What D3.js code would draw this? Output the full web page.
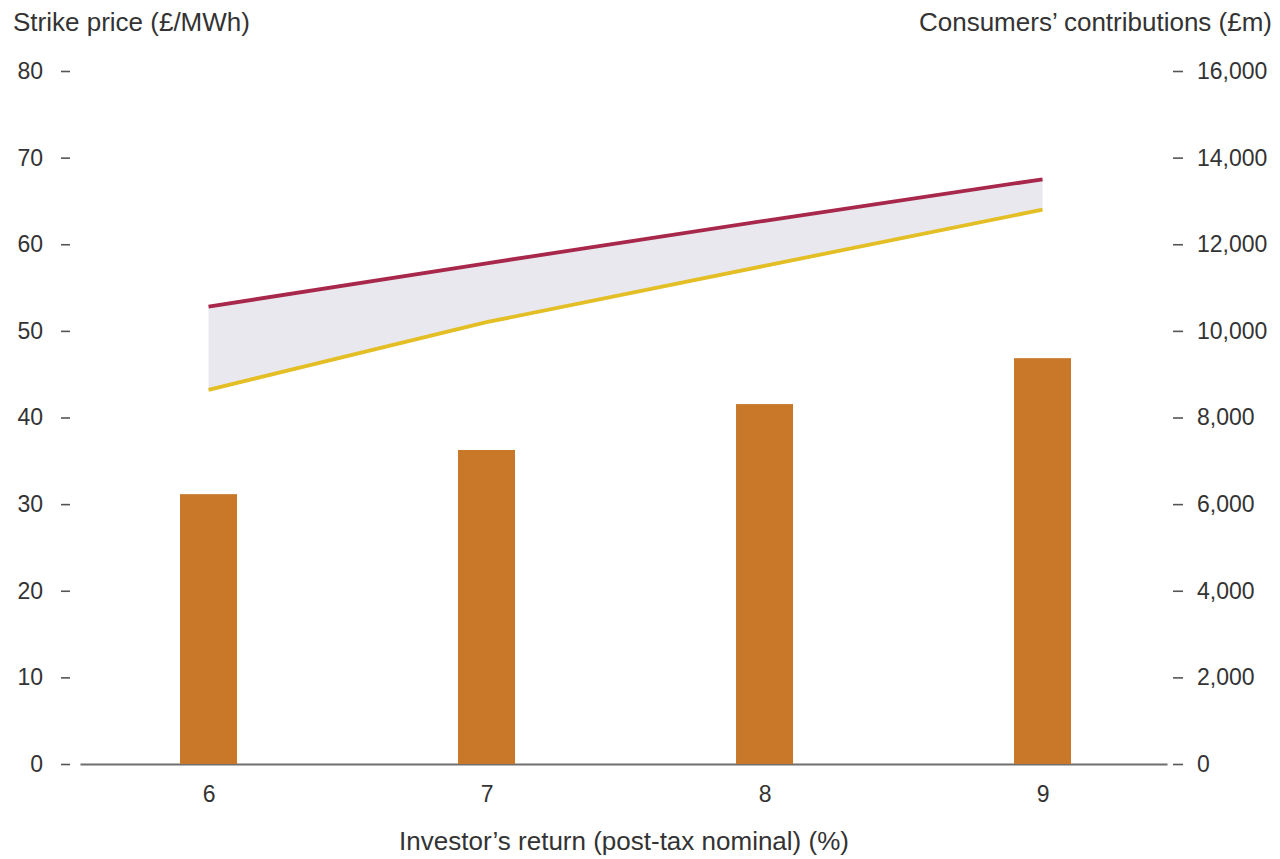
<!DOCTYPE html>
<html>
<head>
<meta charset="utf-8">
<script src="https://cdn.jsdelivr.net/npm/d3@7"></script>
<style>
  html, body { margin: 0; padding: 0; background: #fff; }
  svg { display: block; font-family: "Liberation Sans", Arial, sans-serif; }
  .tick text { fill: #333; font-size: 23px; }
</style>
</head>
<body>
<svg id="chart" width="1280" height="859"></svg>
<script>
// Investor's return (post-tax nominal), %
const returns = [6, 7, 8, 9];
// Strike price range, £/MWh
const strikeHigh = [52.8, 57.8, 62.7, 67.5];
const strikeLow = [43.2, 51.0, 57.5, 64.0];
// Consumers' contributions, £m
const contributions = [6230, 7250, 8310, 9370];
// Axis ticks
const leftTicks = [0, 10, 20, 30, 40, 50, 60, 70, 80];
const rightTicks = [0, 2000, 4000, 6000, 8000, 10000, 12000, 14000, 16000];

const svg = d3.select("#chart");

const x = d3.scalePoint().domain(returns).range([80, 1167]).padding(0.455).align(0.508);
const yL = d3.scaleLinear().domain([0, 80]).range([764, 71]);
const yR = d3.scaleLinear().domain([0, 16000]).range([764, 71]);

// Axis titles
svg.append("text").attr("x", 13).attr("y", 31)
  .attr("font-size", 26).attr("fill", "#333")
  .text("Strike price (£/MWh)");
svg.append("text").attr("x", 1272).attr("y", 31)
  .attr("text-anchor", "end")
  .attr("font-size", 26).attr("fill", "#333")
  .text("Consumers’ contributions (£m)");

// Left axis
const gL = svg.append("g").attr("transform", "translate(70,0)")
  .call(d3.axisLeft(yL).tickValues(leftTicks).tickSize(9).tickPadding(18));
gL.select(".domain").remove();
gL.selectAll(".tick line").attr("stroke", "#555").attr("stroke-width", 1.6);

// Right axis
const gR = svg.append("g").attr("transform", "translate(1173,0)")
  .call(d3.axisRight(yR).tickValues(rightTicks).tickSize(10).tickPadding(14)
    .tickFormat(d3.format(",")));
gR.select(".domain").remove();
gR.selectAll(".tick line").attr("stroke", "#555").attr("stroke-width", 1.6);

// Bottom axis
const gB = svg.append("g").attr("transform", "translate(0,764)")
  .call(d3.axisBottom(x).tickSize(0).tickPadding(22));
gB.select(".domain").attr("stroke", "#6f6f6f").attr("stroke-width", 2.2);

svg.append("text").attr("x", 624).attr("y", 850)
  .attr("text-anchor", "middle").attr("font-size", 26).attr("fill", "#333")
  .text("Investor’s return (post-tax nominal) (%)");

// Strike price band
const band = returns.map((r, i) => ({ r, hi: strikeHigh[i], lo: strikeLow[i] }));
svg.append("path").datum(band)
  .attr("fill", "#e8e8ee")
  .attr("d", d3.area().x(d => x(d.r)).y0(d => yL(d.lo)).y1(d => yL(d.hi)));
svg.append("path").datum(band)
  .attr("fill", "none").attr("stroke", "#a8284c").attr("stroke-width", 3.8)
  .attr("d", d3.line().x(d => x(d.r)).y(d => yL(d.hi)));
svg.append("path").datum(band)
  .attr("fill", "none").attr("stroke", "#e3be24").attr("stroke-width", 3.8)
  .attr("d", d3.line().x(d => x(d.r)).y(d => yL(d.lo)));

// Contribution bars
const barW = 57;
svg.append("g").selectAll("rect").data(returns).join("rect")
  .attr("x", d => x(d) - barW / 2)
  .attr("width", barW)
  .attr("y", (d, i) => yR(contributions[i]))
  .attr("height", (d, i) => yR(0) - yR(contributions[i]))
  .attr("fill", "#c87828");
</script>
</body>
</html>
